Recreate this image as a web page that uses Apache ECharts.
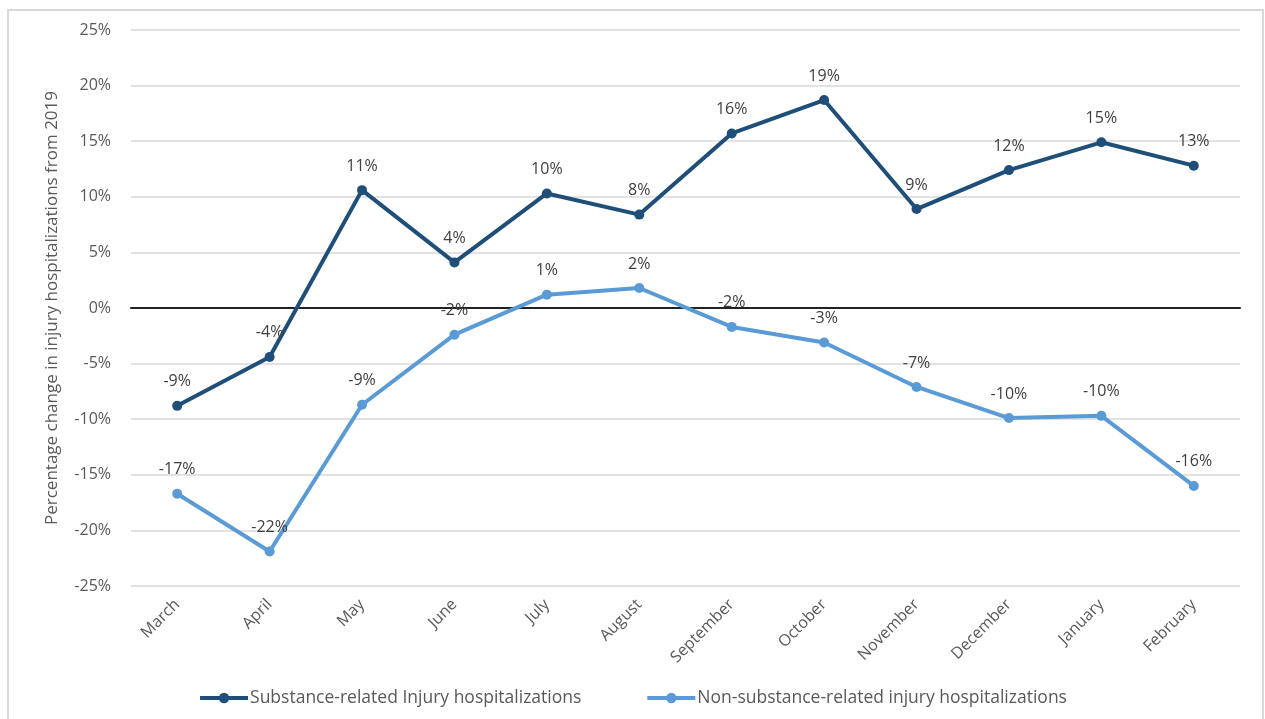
<!DOCTYPE html>
<html>
<head>
<meta charset="utf-8">
<script src="https://cdn.jsdelivr.net/npm/echarts@6/dist/echarts.min.js"></script>
<style>
  html, body { margin: 0; padding: 0; background: #fff; }
  #chart { width: 1265px; height: 719px; }
</style>
</head>
<body>
<div id="chart"></div>
<script>
// Monthly change in injury hospitalizations versus 2019 (%)
const months = ['March', 'April', 'May', 'June', 'July', 'August', 'September', 'October', 'November', 'December', 'January', 'February'];
const substanceRelated = [-8.8, -4.4, 10.6, 4.1, 10.3, 8.4, 15.7, 18.7, 8.9, 12.4, 14.9, 12.8];
const nonSubstanceRelated = [-16.7, -21.9, -8.7, -2.4, 1.2, 1.8, -1.7, -3.1, -7.1, -9.9, -9.7, -16.0];
const seriesNames = ['Substance-related Injury hospitalizations', 'Non-substance-related injury hospitalizations'];
const yTicks = { min: -25, max: 25, step: 5 };

const font = 'Open Sans, Noto Sans, sans-serif';
const chart = echarts.init(document.getElementById('chart'));

function lineSeries(name, data, color) {
  return {
    name: name,
    type: 'line',
    data: data,
    symbol: 'circle',
    symbolSize: 10,
    lineStyle: { width: 4, color: color },
    itemStyle: { color: color },
    label: {
      show: true,
      position: 'top',
      distance: 11,
      color: '#404040',
      fontFamily: font,
      fontSize: 16,
      formatter: p => Math.round(p.value) + '%'
    },
    z: 3
  };
}

chart.setOption({
  animation: false,
  backgroundColor: '#fff',
  graphic: [{
    type: 'rect',
    shape: { x: 8, y: 10, width: 1255, height: 720 },
    style: { fill: 'none', stroke: '#d9d9d9', lineWidth: 2 },
    silent: true,
    z: -1
  }],
  grid: { left: 131, right: 25, top: 30, bottom: 133 },
  legend: {
    bottom: 7,
    left: 'center',
    itemWidth: 48,
    itemHeight: 13,
    itemGap: 64,
    lineStyle: { width: 4 },
    textStyle: { color: '#595959', fontFamily: font, fontSize: 17.5, padding: [0, 0, 0, -3] },
    data: seriesNames
  },
  xAxis: {
    type: 'category',
    data: months,
    boundaryGap: true,
    axisLine: { onZero: true, lineStyle: { color: '#222', width: 2 } },
    axisTick: { show: false },
    axisLabel: {
      interval: 0,
      rotate: 45,
      color: '#595959',
      fontFamily: font,
      fontSize: 16,
      margin: 16
    },
    position: 'bottom'
  },
  yAxis: {
    type: 'value',
    min: yTicks.min,
    max: yTicks.max,
    interval: yTicks.step,
    name: 'Percentage change in injury hospitalizations from 2019',
    nameLocation: 'middle',
    nameGap: 70,
    nameTextStyle: { color: '#595959', fontFamily: font, fontSize: 17 },
    axisLine: { show: false },
    axisTick: { show: false },
    axisLabel: {
      color: '#595959',
      fontFamily: font,
      fontSize: 16,
      margin: 20,
      formatter: v => v + '%'
    },
    splitLine: { lineStyle: { color: '#d9d9d9', width: 1.5 } }
  },
  series: [
    lineSeries(seriesNames[0], substanceRelated, '#1f4e79'),
    lineSeries(seriesNames[1], nonSubstanceRelated, '#5b9bd5')
  ]
});
</script>
</body>
</html>
